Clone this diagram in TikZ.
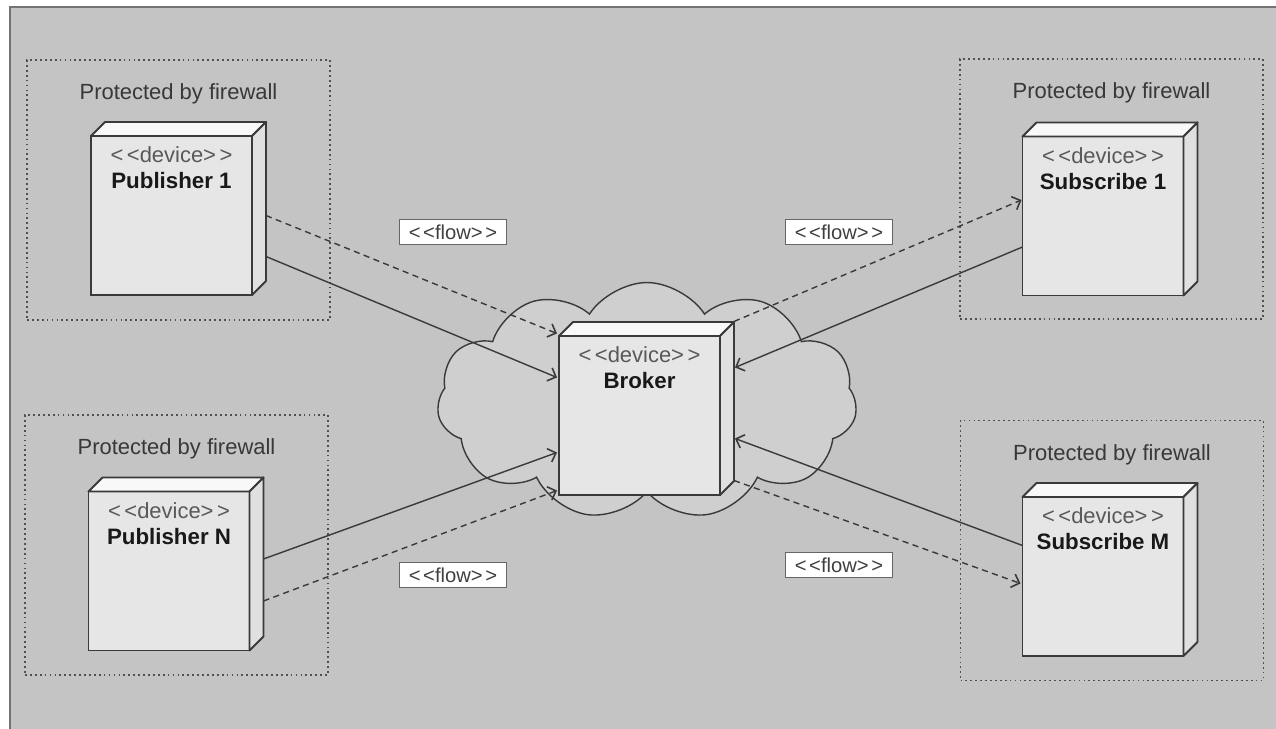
\documentclass[tikz,border=0pt]{standalone}
\usepackage{fontspec}
\setmainfont{Liberation Sans}
\usetikzlibrary{arrows.meta,shapes.symbols,calc}

\definecolor{bggray}{HTML}{C4C4C4}
\definecolor{cloudgray}{HTML}{CFCFCF}
\definecolor{frontgray}{HTML}{E6E6E6}
\definecolor{sidegray}{HTML}{E0E0E0}
\definecolor{topgray}{HTML}{F8F8F8}
\definecolor{linegray}{HTML}{3A3A3A}
\definecolor{dotgray}{HTML}{505050}

\begin{document}
\begin{tikzpicture}[x=0.02cm, y=-0.02cm,
    device/.style={draw=linegray, line width=1.1pt, fill=frontgray, minimum width=3.22cm, minimum height=3.18cm, outer sep=0pt},
    face/.style={draw=linegray, line width=1.1pt, line join=round},
    stereo/.style={text=black!65, font=\fontsize{12.5}{14}\selectfont},
    devname/.style={text=black!90, font=\fontsize{12.7}{14}\selectfont\bfseries},
    firewall/.style={draw=dotgray, line width=1pt, dash pattern=on 1pt off 1.8pt, minimum width=6.06cm, minimum height=5.2cm},
    fwtext/.style={text=black!78, font=\fontsize{12.5}{14}\selectfont},
    flowbox/.style={draw=black!60, line width=0.8pt, fill=white, minimum width=2.14cm, minimum height=0.5cm, inner sep=0pt, font=\fontsize{11.5}{13}\selectfont, text=black!75},
    conn/.style={draw=linegray, line width=0.8pt, -{Straight Barb[length=4pt, width=8pt, line width=0.9pt]}},
    conndash/.style={conn, dash pattern=on 3.5pt off 2.5pt}]

    \useasboundingbox (0,0) rectangle (1276,729);
    \fill[white] (0,0) rectangle (1276,729);
    \fill[bggray] (10,7) rectangle (1276,729);
    \draw[black!55, line width=1.2pt] (10,729) -- (10,7) -- (1276,7);

    % network cloud
    \node[cloud, cloud puffs=11, cloud puff arc=115, aspect=1.78, draw=linegray, line width=0.8pt, fill=cloudgray,
          minimum width=8.4cm, minimum height=4.74cm] (net) at (647,401) {};

    % firewall zones
    \foreach \n/\x/\y in {fw1/178.5/190, fw2/176.5/545, fw3/1111.5/189, fw4/1112/550.5} {
        \node[firewall] (\n) at (\x,\y) {};
        \node[fwtext] (\n-text) at ([yshift=-0.7cm]\n.north) {Protected by firewall};
    }

    % devices
    \foreach \n/\x/\y/\t in {pub1/171.5/215.5/Publisher 1, pubN/169/571/Publisher N,
                             sub1/1103/216/Subscribe 1, subM/1103/576.5/Subscribe M,
                             broker/639.5/415.5/Broker} {
        \node[device] (\n) at (\x,\y) {};
        \filldraw[face, fill=topgray] (\n.north west) -- ([shift={(14,-14)}]\n.north west)
            -- ([shift={(14,-14)}]\n.north east) -- (\n.north east) -- cycle;
        \filldraw[face, fill=sidegray] (\n.north east) -- ([shift={(14,-14)}]\n.north east)
            -- ([shift={(14,-14)}]\n.south east) -- (\n.south east) -- cycle;
        \node[stereo] (\n-st) at ([yshift=-0.38cm]\n.north) {<\kern2pt<device>\kern2pt>};
        \node[devname] (\n-nm) at ([yshift=-0.9cm]\n.north) {\t};
    }

    % publishers -> broker
    \draw[conndash] ($(pub1.east)+(14,0)$) -- ($(broker.west)+(-2,-82)$);
    \draw[conn] ($(pub1.east)+(14,41)$) -- ($(broker.west)+(-2,-38)$);
    \draw[conn] ($(pubN.east)+(14,-12)$) -- ($(broker.west)+(-2,37)$);
    \draw[conndash] ($(pubN.east)+(14,30)$) -- ($(broker.west)+(-2,75)$);

    % broker <-> subscribers
    \draw[conndash] ($(broker.east)+(14,-94)$) -- ($(sub1.west)+(-1,-16)$);
    \draw[conn] ($(sub1.west)+(0,31)$) -- ($(broker.east)+(15,-48)$);
    \draw[conn] ($(subM.west)+(0,-31)$) -- ($(broker.east)+(15,23)$);
    \draw[conndash] ($(broker.east)+(14,65)$) -- ($(subM.west)+(-2,7)$);

    % flow labels
    \foreach \n/\x/\y in {flow1/453/232, flow2/839/232, flow3/453/575, flow4/839/565} {
        \node[flowbox] (\n) at (\x,\y) {<\kern1.5pt<flow>\kern1.5pt>};
    }
\end{tikzpicture}
\end{document}
